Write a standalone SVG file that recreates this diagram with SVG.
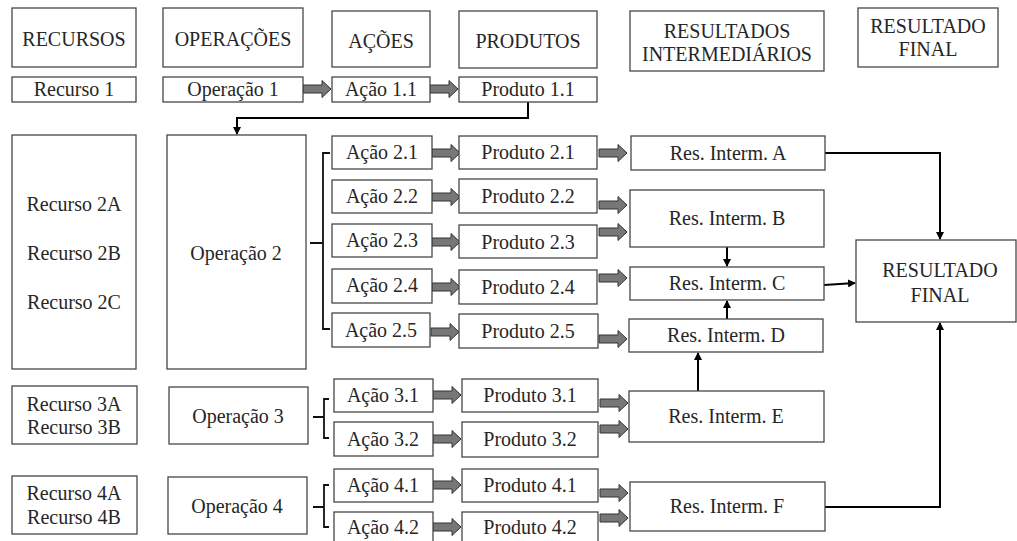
<svg xmlns="http://www.w3.org/2000/svg" xmlns:xlink="http://www.w3.org/1999/xlink" width="1017" height="541" viewBox="0 0 1017 541">
<style>
.box{fill:#fff;stroke:#474747;stroke-width:1.3}
.t{font-family:"Liberation Serif","Times New Roman",serif;font-size:20px;fill:#262626;text-anchor:middle}
.ln{fill:none;stroke:#000;stroke-width:2}
.br{fill:none;stroke:#111;stroke-width:1.8}
.ba{fill:#777;stroke:#333;stroke-width:1}
</style>
<defs>
<path id="blk" d="M0,-4 H19 V-8.5 L28,0 L19,8.5 V4 H0 Z"/>
<marker id="ah" markerUnits="userSpaceOnUse" markerWidth="8" markerHeight="8" refX="7" refY="4" orient="auto">
<path d="M0,0 L8,4 L0,8 Z" fill="#000"/>
</marker>
</defs>
<rect width="1017" height="541" fill="#fff"/>

<g id="headers">
<g id="h-recursos"><rect class="box" x="12" y="8" width="124" height="59"/><text class="t" x="74" y="46">RECURSOS</text></g>
<g id="h-operacoes"><rect class="box" x="163" y="8" width="140" height="59"/><text class="t" x="233" y="46">OPERAÇÕES</text></g>
<g id="h-acoes"><rect class="box" x="332" y="11" width="98" height="56"/><text class="t" x="381" y="48">AÇÕES</text></g>
<g id="h-produtos"><rect class="box" x="459" y="11" width="138" height="57"/><text class="t" x="528" y="48">PRODUTOS</text></g>
<g id="h-resint"><rect class="box" x="630" y="11" width="194" height="60"/><text class="t" x="727" y="38">RESULTADOS</text><text class="t" x="727" y="61">INTERMEDIÁRIOS</text></g>
<g id="h-resfinal"><rect class="box" x="858" y="8" width="140" height="59"/><text class="t" x="928" y="33">RESULTADO</text><text class="t" x="928" y="56">FINAL</text></g>
</g>

<g id="connectors">
<use href="#blk" class="ba" transform="translate(303,89)"/>
<use href="#blk" class="ba" transform="translate(430,89)"/>
<use href="#blk" class="ba" transform="translate(432,153)"/>
<use href="#blk" class="ba" transform="translate(432,197)"/>
<use href="#blk" class="ba" transform="translate(432,242)"/>
<use href="#blk" class="ba" transform="translate(432,287)"/>
<use href="#blk" class="ba" transform="translate(431,332)"/>
<use href="#blk" class="ba" transform="translate(433,395)"/>
<use href="#blk" class="ba" transform="translate(433,439)"/>
<use href="#blk" class="ba" transform="translate(433,485)"/>
<use href="#blk" class="ba" transform="translate(433,527)"/>
<use href="#blk" class="ba" transform="translate(599,153)"/>
<use href="#blk" class="ba" transform="translate(599,205)"/>
<use href="#blk" class="ba" transform="translate(599,232)"/>
<use href="#blk" class="ba" transform="translate(599,278)"/>
<use href="#blk" class="ba" transform="translate(599,339)"/>
<use href="#blk" class="ba" transform="translate(600,403)"/>
<use href="#blk" class="ba" transform="translate(600,429)"/>
<use href="#blk" class="ba" transform="translate(600,493)"/>
<use href="#blk" class="ba" transform="translate(600,518)"/>
<path class="br" d="M310,243 H323 M330,153 H323 V329 H330"/>
<path class="br" d="M313,417 H324 M329,399 H324 V438 H329"/>
<path class="br" d="M313,507 H324 M329,485 H324 V527 H329"/>
<path class="ln" d="M528,102 V118 H237 V134" marker-end="url(#ah)"/>
<path class="ln" d="M825,153 H940 V239" marker-end="url(#ah)"/>
<path class="ln" d="M825,507 H940 V323" marker-end="url(#ah)"/>
<path class="ln" d="M824,285 L855,283" marker-end="url(#ah)"/>
<path class="ln" d="M727,247 V266" marker-end="url(#ah)"/>
<path class="ln" d="M727,319 V301" marker-end="url(#ah)"/>
<path class="ln" d="M698,391 V353" marker-end="url(#ah)"/>
</g>

<g id="recurso1"><rect class="box" x="12" y="77" width="124" height="25"/><text class="t" x="74" y="96">Recurso 1</text></g>
<g id="operacao1"><rect class="box" x="163" y="77" width="140" height="25"/><text class="t" x="233" y="96">Operação 1</text></g>
<g id="acao11"><rect class="box" x="332" y="77" width="98" height="25"/><text class="t" x="381" y="96">Ação 1.1</text></g>
<g id="produto11"><rect class="box" x="459" y="77" width="138" height="25"/><text class="t" x="528" y="96">Produto 1.1</text></g>

<g id="recurso2"><rect class="box" x="12" y="135" width="124" height="234"/><text class="t" x="74" y="211">Recurso 2A</text><text class="t" x="74" y="260">Recurso 2B</text><text class="t" x="74" y="309">Recurso 2C</text></g>
<g id="operacao2"><rect class="box" x="167" y="135" width="139" height="234"/><text class="t" x="236" y="260">Operação 2</text></g>

<g id="acao21"><rect class="box" x="332" y="136" width="100" height="33"/><text class="t" x="382" y="159">Ação 2.1</text></g>
<g id="acao22"><rect class="box" x="332" y="180" width="100" height="33"/><text class="t" x="382" y="203">Ação 2.2</text></g>
<g id="acao23"><rect class="box" x="332" y="224" width="100" height="33"/><text class="t" x="382" y="247">Ação 2.3</text></g>
<g id="acao24"><rect class="box" x="332" y="269" width="100" height="34"/><text class="t" x="382" y="292">Ação 2.4</text></g>
<g id="acao25"><rect class="box" x="332" y="313" width="98" height="34"/><text class="t" x="381" y="337">Ação 2.5</text></g>

<g id="produto21"><rect class="box" x="459" y="136" width="138" height="33"/><text class="t" x="528" y="159">Produto 2.1</text></g>
<g id="produto22"><rect class="box" x="459" y="179" width="138" height="34"/><text class="t" x="528" y="203">Produto 2.2</text></g>
<g id="produto23"><rect class="box" x="459" y="225" width="138" height="33"/><text class="t" x="528" y="249">Produto 2.3</text></g>
<g id="produto24"><rect class="box" x="459" y="270" width="138" height="34"/><text class="t" x="528" y="294">Produto 2.4</text></g>
<g id="produto25"><rect class="box" x="459" y="314" width="139" height="34"/><text class="t" x="528" y="338">Produto 2.5</text></g>

<g id="resA"><rect class="box" x="631" y="136" width="194" height="34"/><text class="t" x="728" y="160">Res. Interm. A</text></g>
<g id="resB"><rect class="box" x="630" y="190" width="194" height="57"/><text class="t" x="727" y="225">Res. Interm. B</text></g>
<g id="resC"><rect class="box" x="630" y="267" width="194" height="33"/><text class="t" x="727" y="290">Res. Interm. C</text></g>
<g id="resD"><rect class="box" x="629" y="319" width="194" height="33"/><text class="t" x="726" y="342">Res. Interm. D</text></g>
<g id="resE"><rect class="box" x="629" y="391" width="195" height="51"/><text class="t" x="726" y="423">Res. Interm. E</text></g>
<g id="resF"><rect class="box" x="630" y="482" width="195" height="49"/><text class="t" x="727" y="513">Res. Interm. F</text></g>

<g id="resultadofinal"><rect class="box" x="856" y="240" width="160" height="82"/><text class="t" x="940" y="277">RESULTADO</text><text class="t" x="940" y="302">FINAL</text></g>

<g id="recurso3"><rect class="box" x="12" y="386" width="125" height="58"/><text class="t" x="74" y="411">Recurso 3A</text><text class="t" x="74" y="434">Recurso 3B</text></g>
<g id="operacao3"><rect class="box" x="169" y="387" width="139" height="57"/><text class="t" x="238" y="423">Operação 3</text></g>
<g id="acao31"><rect class="box" x="334" y="379" width="99" height="33"/><text class="t" x="383" y="402">Ação 3.1</text></g>
<g id="acao32"><rect class="box" x="334" y="422" width="99" height="34"/><text class="t" x="383" y="446">Ação 3.2</text></g>
<g id="produto31"><rect class="box" x="462" y="379" width="136" height="33"/><text class="t" x="530" y="402">Produto 3.1</text></g>
<g id="produto32"><rect class="box" x="462" y="422" width="136" height="35"/><text class="t" x="530" y="446">Produto 3.2</text></g>

<g id="recurso4"><rect class="box" x="12" y="476" width="125" height="58"/><text class="t" x="74" y="500">Recurso 4A</text><text class="t" x="74" y="524">Recurso 4B</text></g>
<g id="operacao4"><rect class="box" x="168" y="477" width="139" height="57"/><text class="t" x="237" y="513">Operação 4</text></g>
<g id="acao41"><rect class="box" x="334" y="469" width="99" height="33"/><text class="t" x="383" y="492">Ação 4.1</text></g>
<g id="acao42"><rect class="box" x="334" y="512" width="99" height="34"/><text class="t" x="383" y="534">Ação 4.2</text></g>
<g id="produto41"><rect class="box" x="462" y="469" width="136" height="33"/><text class="t" x="530" y="492">Produto 4.1</text></g>
<g id="produto42"><rect class="box" x="462" y="512" width="136" height="34"/><text class="t" x="530" y="534">Produto 4.2</text></g>
</svg>
